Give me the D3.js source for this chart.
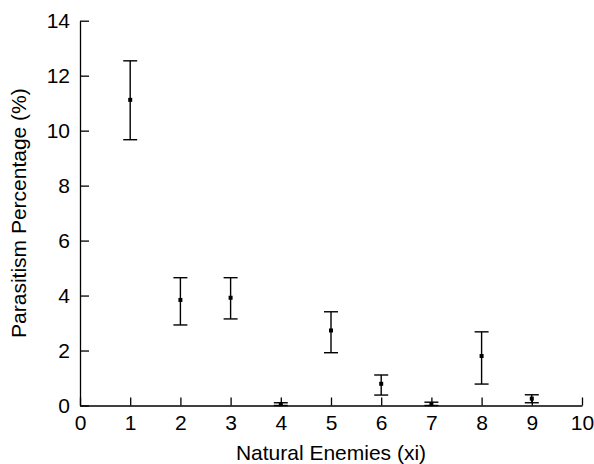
<!DOCTYPE html>
<html>
<head>
<meta charset="utf-8">
<script src="https://cdn.jsdelivr.net/npm/d3@7"></script>
<style>
  body { margin: 0; background: #fff; }
  svg text { font-family: "Liberation Sans", Arial, Helvetica, sans-serif; fill: #000; }
  .axis path, .axis line { stroke: #000; stroke-width: 1.3px; }
</style>
</head>
<body>
<div class="chart"></div>
<script>
// Data
const enemies = [1, 2, 3, 4, 5, 6, 7, 8, 9]
const means = [11.12, 3.84, 3.92, 0.05, 2.73, 0.79, 0.05, 1.8, 0.25]
const highs = [12.54, 4.65, 4.65, 0.1, 3.41, 1.11, 0.12, 2.68, 0.39]
const lows = [9.67, 2.93, 3.15, 0, 1.92, 0.38, 0, 0.78, 0.1]
const xTicks = [0, 1, 2, 3, 4, 5, 6, 7, 8, 9, 10]
const yTicks = [0, 2, 4, 6, 8, 10, 12, 14]

const dims = {
  width: 594,
  height: 464,
  xStart: 80,
  xEnd: 582,
  yStart: 20.7,
  yEnd: 405.5
}

const fontSize = '21px'

const _xScale = d3.scaleLinear()
                  .domain([0, 10])
                  .range([dims.xStart, dims.xEnd])

const _yScale = d3.scaleLinear()
                  .domain([0, 14])
                  .range([dims.yEnd, dims.yStart])

const _cont = d3.select('.chart')
                .append('svg')
                .attr('width', dims.width)
                .attr('height', dims.height)

// x axis
const xAxisGroup = _cont.append('g')
                        .classed('axis', true)
                        .attr('transform', `translate(0,${dims.yEnd})`)
                        .call(d3.axisBottom(_xScale)
                                .tickValues(xTicks)
                                .tickFormat(d3.format('d'))
                                .tickSizeInner(-8)
                                .tickSizeOuter(0)
                                .tickPadding(10))
xAxisGroup.selectAll('text').style('font-size', fontSize)

// y axis
const yAxisGroup = _cont.append('g')
                        .classed('axis', true)
                        .attr('transform', `translate(${dims.xStart},0)`)
                        .call(d3.axisLeft(_yScale)
                                .tickValues(yTicks)
                                .tickFormat(d3.format('d'))
                                .tickSizeInner(-9)
                                .tickSizeOuter(0)
                                .tickPadding(10))
yAxisGroup.selectAll('text').style('font-size', fontSize)

// labels
_cont.append('text')
     .text('Natural Enemies (xi)')
     .attr('x', (dims.xStart + dims.xEnd) / 2)
     .attr('y', 460)
     .attr('text-anchor', 'middle')
     .style('font-size', fontSize)

_cont.append('text')
     .text('Parasitism Percentage (%)')
     .attr('transform', `translate(26, ${(dims.yStart + dims.yEnd) / 2}) rotate(-90)`)
     .attr('text-anchor', 'middle')
     .style('font-size', fontSize)

// error bars
const capHalf = 7
const bars = _cont.append('g')
                  .selectAll('g')
                  .data(enemies)
                  .join('g')
                  .attr('stroke', '#000')
                  .attr('stroke-width', 1.4)

bars.append('line')
    .attr('x1', d => _xScale(d))
    .attr('x2', d => _xScale(d))
    .attr('y1', (d, i) => _yScale(highs[i]))
    .attr('y2', (d, i) => _yScale(lows[i]))

bars.append('line')
    .attr('x1', d => _xScale(d) - capHalf)
    .attr('x2', d => _xScale(d) + capHalf)
    .attr('y1', (d, i) => _yScale(highs[i]))
    .attr('y2', (d, i) => _yScale(highs[i]))

bars.append('line')
    .attr('x1', d => _xScale(d) - capHalf)
    .attr('x2', d => _xScale(d) + capHalf)
    .attr('y1', (d, i) => _yScale(lows[i]))
    .attr('y2', (d, i) => _yScale(lows[i]))

bars.append('rect')
    .attr('x', d => _xScale(d) - 2)
    .attr('y', (d, i) => _yScale(means[i]) - 2)
    .attr('width', 4)
    .attr('height', 4)
    .attr('fill', '#000')
    .attr('stroke', 'none')
</script>
</body>
</html>
